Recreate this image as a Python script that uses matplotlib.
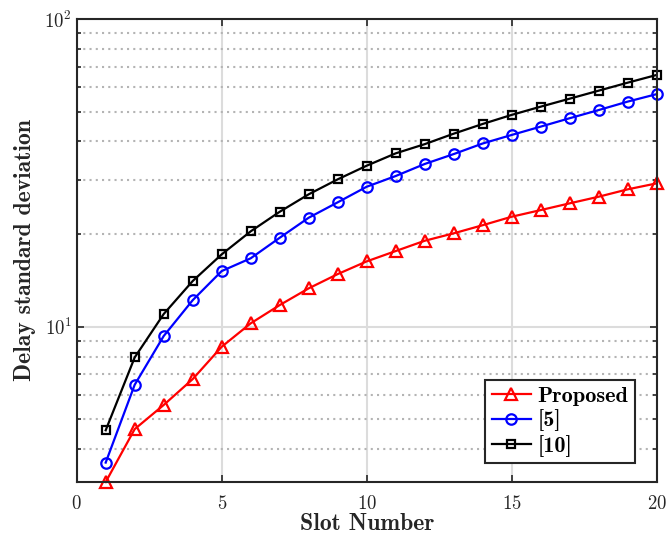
import matplotlib
matplotlib.use("Agg")
import matplotlib.pyplot as plt
from matplotlib.ticker import LogLocator, NullFormatter, FixedLocator

slots = list(range(1, 21))
proposed = [3.13, 4.65, 5.57, 6.76, 8.61, 10.26, 11.76, 13.33, 14.83, 16.31,
            17.62, 19.03, 20.12, 21.38, 22.78, 23.94, 25.18, 26.46, 27.96, 29.24]
ref5 = [3.62, 6.48, 9.33, 12.2, 15.17, 16.69, 19.46, 22.61, 25.37, 28.51,
        30.89, 33.8, 36.4, 39.4, 42.0, 44.7, 47.6, 50.6, 53.9, 57.0]
ref10 = [4.61, 7.95, 11.0, 14.08, 17.19, 20.42, 23.64, 26.94, 30.13, 33.37,
         36.6, 39.2, 42.4, 45.6, 48.8, 51.9, 55.1, 58.5, 62.1, 65.8]
labels = ["Proposed", "[5]", "[10]"]
xticks = [0, 5, 10, 15, 20]

plt.rcParams['font.family'] = ['cmr10', 'DejaVu Serif']
plt.rcParams['mathtext.fontset'] = 'cm'
plt.rcParams['axes.formatter.use_mathtext'] = True
plt.rcParams['axes.unicode_minus'] = False

fig = plt.figure(figsize=(6.68, 5.41), dpi=100)
ax = fig.add_axes([0.1148, 0.109, 0.8683, 0.8559])

ax.set_yscale('log')
ax.set_xlim(0, 20)
ax.set_ylim(proposed[0], 100)

ax.xaxis.set_major_locator(FixedLocator(xticks))
ax.yaxis.set_major_locator(LogLocator(base=10))
ax.yaxis.set_minor_locator(LogLocator(base=10, subs=range(2, 10)))
ax.yaxis.set_minor_formatter(NullFormatter())

ax.grid(True, which='major', axis='both', color='#dcdcdc', linestyle='-', linewidth=1.5, zorder=0)
ax.grid(True, which='minor', axis='y', color='#b4b4b4', linestyle=(0, (1, 2.0)), linewidth=1.5, zorder=0)
ax.set_axisbelow(True)

kw = dict(linewidth=1.6, markeredgewidth=1.6, markerfacecolor='none', clip_on=False, zorder=3)
ax.plot(slots, proposed, color='#ff0000', marker='^', markersize=8.5, label=labels[0], **kw)
ax.plot(slots, ref5, color='#0000ff', marker='o', markersize=7.5, label=labels[1], **kw)
ax.plot(slots, ref10, color='#000000', marker='s', markersize=5.8, label=labels[2], **kw)

for s in ax.spines.values():
    s.set_linewidth(1.5)
    s.set_color('#262626')
    s.set_zorder(4)

ax.tick_params(which='both', direction='in', top=True, right=True, colors='#262626',
               labelsize=13.5, width=1.2)
ax.tick_params(which='major', length=5)
ax.tick_params(which='minor', length=3)
ax.tick_params(axis='x', pad=9)
for t in ax.get_xticklabels() + ax.get_yticklabels():
    t.set_color('#262626')

ax.set_xlabel('Slot Number', family=['cmb10', 'DejaVu Serif'], fontsize=17, color='#262626', labelpad=0)
ax.set_ylabel('Delay standard deviation', family=['cmb10', 'DejaVu Serif'], fontsize=17, color='#262626', labelpad=6)

leg = ax.legend(loc='lower right', bbox_to_anchor=(0.9626, 0.0404), borderaxespad=0,
                fancybox=False, framealpha=1, edgecolor='#262626',
                prop={'family': ['cmb10', 'DejaVu Serif'], 'size': 16},
                handlelength=1.75, handletextpad=0.3, borderpad=0.3, labelspacing=0.15)
leg.get_frame().set_linewidth(1.5)

fig.savefig('out.png', dpi=100)
